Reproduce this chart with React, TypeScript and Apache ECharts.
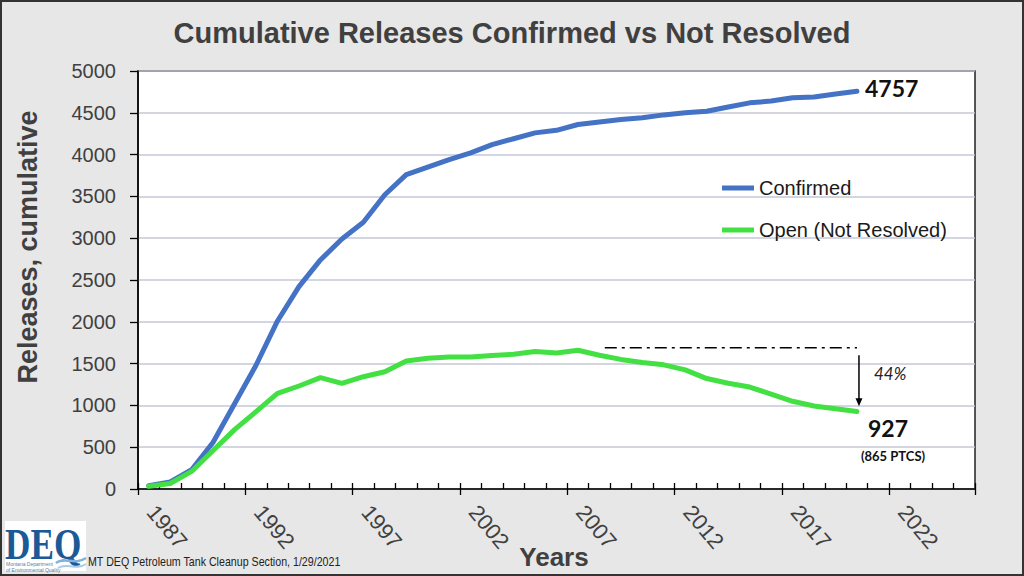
import React, { useEffect, useRef } from "react";
import * as echarts from "echarts";

const categories = [
  "1987", "1988", "1989", "1990", "1991", "1992", "1993", "1994", "1995", "1996",
  "1997", "1998", "1999", "2000", "2001", "2002", "2003", "2004", "2005", "2006",
  "2007", "2008", "2009", "2010", "2011", "2012", "2013", "2014", "2015", "2016",
  "2017", "2018", "2019", "2020", "2021", "2022", "2023", "2024", "2025",
];

const confirmed = [
  40, 85, 230, 560, 1020, 1480, 2010, 2420, 2740, 2990,
  3190, 3520, 3760, 3850, 3940, 4020, 4120, 4190, 4260, 4290,
  4360, 4390, 4420, 4440, 4475, 4500, 4518, 4570, 4619, 4640,
  4679, 4690, 4725, 4757,
];

const openNotResolved = [
  32, 66, 210, 460, 710, 925, 1144, 1232, 1332, 1264,
  1343, 1403, 1532, 1564, 1580, 1580, 1596, 1612, 1644, 1628,
  1660, 1600, 1550, 1514, 1485, 1425, 1321, 1265, 1220, 1135,
  1049, 993, 960, 927,
];

const seriesNames = ["Confirmed", "Open (Not Resolved)"];
const titleText = "Cumulative Releases Confirmed vs Not Resolved";
const yAxisName = "Releases, cumulative";
const xAxisName = "Years";
const footerText = "MT DEQ Petroleum Tank Cleanup Section, 1/29/2021";

// annotation values (data units)
const refLevel = 1690;
const refStartIndex = 21.25;
const arrowFrom = 1600;
const arrowTo = 990;
const pctLevel = 1385;
const pctText = "44%";
const openFinalText = "927";
const ptcsText = "(865 PTCS)";

const FONT = "'Liberation Sans', Arial, sans-serif";
const NUMFONT = "Lato, 'Open Sans', sans-serif";
const BLUE = "#4472c4";
const GREEN = "#43e043";

export default function App() {
  const ref = useRef<HTMLDivElement>(null);

  useEffect(() => {
    const chart = echarts.init(ref.current!, null, { renderer: "svg" });
    const tickStyle = { color: "#000", width: 1.3 };
    chart.setOption({
      animation: false,
      backgroundColor: "#e7e7e7",
      grid: {
        left: 138, right: 49, top: 71, bottom: 87, show: true,
        backgroundColor: "#ffffff", borderColor: "#000", borderWidth: 1.3,
      },
      legend: {
        orient: "vertical", left: 717, top: 173, itemWidth: 32, itemHeight: 5,
        icon: "rect", itemGap: 22,
        textStyle: { fontSize: 20, color: "#1a1a1a", fontFamily: FONT },
        data: seriesNames,
      },
      xAxis: [
        {
          type: "category", data: categories, boundaryGap: true, position: "bottom",
          axisLine: { lineStyle: { color: "#000", width: 1.5 } },
          axisTick: { show: true, interval: 0, inside: true, length: 6, lineStyle: tickStyle },
          axisLabel: {
            interval: 4, rotate: -50, fontFamily: FONT, fontSize: 22,
            color: "#404040", margin: 16, padding: [0, 0, 0, 4],
          },
          splitLine: { show: false },
        },
        {
          type: "category", data: categories, boundaryGap: true, position: "bottom",
          axisLine: { show: false },
          axisTick: { show: true, interval: 4, inside: false, length: 6, lineStyle: tickStyle },
          axisLabel: { show: false },
          splitLine: { show: false },
        },
      ],
      yAxis: {
        type: "value", min: 0, max: 5000, interval: 500,
        axisLine: { show: true, lineStyle: { color: "#000", width: 1.5 } },
        axisTick: { show: true, length: 8, lineStyle: tickStyle },
        axisLabel: {
          fontSize: 20, color: "#404040", margin: 22, fontFamily: FONT,
          formatter: (v: number) => String(v),
        },
        splitLine: { lineStyle: { color: "#c4c7d7", width: 1.5 } },
      },
      series: [
        {
          name: seriesNames[0], type: "line", data: confirmed, symbol: "none",
          lineStyle: { color: BLUE, width: 5, cap: "round", join: "round" },
          itemStyle: { color: BLUE },
          endLabel: {
            show: true, formatter: "{c}", fontFamily: NUMFONT, fontWeight: "bold",
            fontSize: 23, color: "#111", distance: 8, offset: [0, -3],
          },
        },
        {
          name: seriesNames[1], type: "line", data: openNotResolved, symbol: "none",
          lineStyle: { color: GREEN, width: 5, cap: "round", join: "round" },
          itemStyle: { color: GREEN },
        },
      ],
    });

    const p = (i: number, v: number) =>
      chart.convertToPixel({ xAxisIndex: 0, yAxisIndex: 0 }, [i, v]) as number[];
    const last = openNotResolved.length - 1;
    const x0 = p(0, 0)[0];
    const step = p(1, 0)[0] - x0;
    const [xEnd, yRef] = p(last, refLevel);
    const xStart = x0 + step * refStartIndex;
    const yArrowFrom = p(last, arrowFrom)[1];
    const yArrowTo = p(last, arrowTo)[1];
    const yPct = p(last, pctLevel)[1];
    const yOpenEnd = p(last, openNotResolved[last])[1];
    const xArrow = xEnd + 2;

    chart.setOption({
      graphic: [
        {
          type: "text", left: "center", x: 0, top: 18,
          style: { text: titleText, font: `bold 29px ${FONT}`, fill: "#404040" },
        },
        {
          type: "text", x: 28, y: 247, rotation: Math.PI / 2,
          style: {
            text: yAxisName, font: `bold 27px ${FONT}`, fill: "#404040",
            textAlign: "center", textVerticalAlign: "middle",
          },
        },
        {
          type: "text", x: 554, y: 557,
          style: {
            text: xAxisName, font: `bold 26px ${FONT}`, fill: "#404040",
            textAlign: "center", textVerticalAlign: "middle",
          },
        },
        {
          type: "line",
          shape: { x1: xStart, y1: yRef, x2: xEnd, y2: yRef },
          style: { stroke: "#000", lineWidth: 1.4, lineDash: [12, 5, 3, 5] },
        },
        {
          type: "line",
          shape: { x1: xArrow, y1: yArrowFrom, x2: xArrow, y2: yArrowTo - 7 },
          style: { stroke: "#000", lineWidth: 1.5 },
        },
        {
          type: "polygon",
          shape: { points: [[xArrow - 3.5, yArrowTo - 8], [xArrow + 3.5, yArrowTo - 8], [xArrow, yArrowTo]] },
          style: { fill: "#000" },
        },
        {
          type: "text", x: xEnd + 17, y: yPct,
          style: {
            text: pctText, font: `italic 17px ${NUMFONT}`, fill: "#222",
            textVerticalAlign: "middle",
          },
        },
        {
          type: "text", x: xEnd + 11, y: yOpenEnd + 16,
          style: {
            text: openFinalText, font: `bold 23px ${NUMFONT}`, fill: "#111",
            textVerticalAlign: "middle",
          },
        },
        {
          type: "text", x: xEnd + 4, y: yOpenEnd + 44,
          style: {
            text: ptcsText, font: `bold 13px ${NUMFONT}`, fill: "#111",
            textVerticalAlign: "middle",
          },
        },
        {
          type: "text", x: 88, y: 562, scaleX: 0.82,
          style: {
            text: footerText, font: `13px ${FONT}`, fill: "#222",
            textVerticalAlign: "middle",
          },
        },
        {
          type: "group",
          children: [
            { type: "rect", shape: { x: 5, y: 521, width: 81, height: 50 }, style: { fill: "#fff" } },
            {
              type: "text", x: 5, y: 544, scaleX: 0.8,
              style: {
                text: "DEQ", font: `bold 44px 'Liberation Serif', serif`, fill: "#1b5a97",
                textVerticalAlign: "middle",
              },
            },
            {
              type: "text", x: 6, y: 561,
              style: { text: "Montana Department", font: `5px ${FONT}`, fill: "#5a7fa8" },
            },
            {
              type: "text", x: 6, y: 567,
              style: { text: "of Environmental Quality", font: `5px ${FONT}`, fill: "#5a7fa8" },
            },
            {
              type: "bezierCurve",
              shape: { x1: 56, y1: 563, cpx1: 64, cpy1: 556, cpx2: 74, cpy2: 566, x2: 86, y2: 558 },
              style: { stroke: "#7fb2dc", lineWidth: 2.5, fill: null },
            },
            {
              type: "bezierCurve",
              shape: { x1: 58, y1: 568, cpx1: 66, cpy1: 562, cpx2: 76, cpy2: 571, x2: 86, y2: 564 },
              style: { stroke: "#a9cde9", lineWidth: 2, fill: null },
            },
          ],
        },
        {
          type: "rect", shape: { x: 1, y: 1, width: 1022, height: 574 },
          style: { fill: null, stroke: "#333", lineWidth: 2 },
        },
      ],
    });

    return () => chart.dispose();
  }, []);

  return (
    <div
      ref={ref}
      style={{ position: "fixed", left: 0, top: 0, width: 1024, height: 576 }}
    />
  );
}
